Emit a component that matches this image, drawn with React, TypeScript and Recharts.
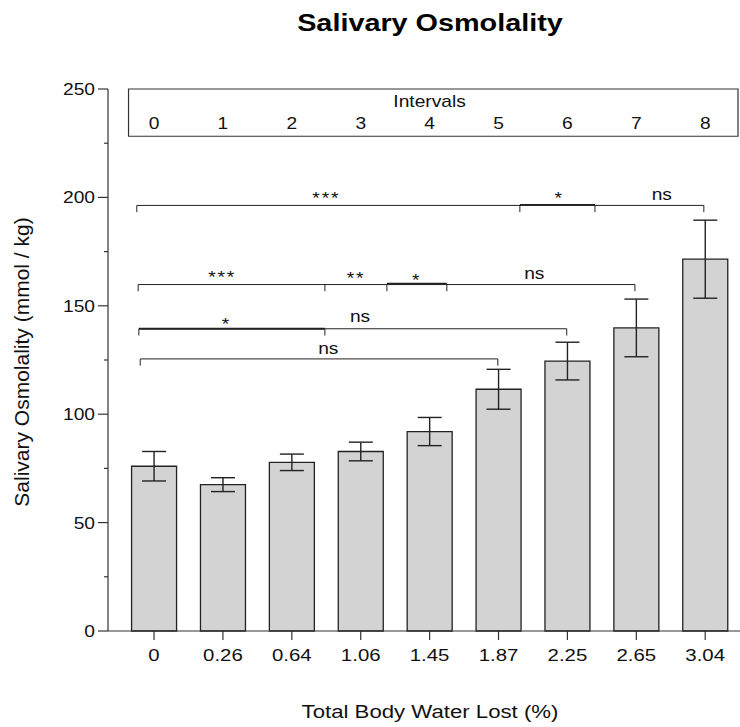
import React from 'react';
import {
  ComposedChart,
  Bar,
  ErrorBar,
  XAxis,
  YAxis,
  ReferenceLine,
  ReferenceArea,
  ReferenceDot,
} from 'recharts';

const FONT = '"Liberation Sans", Arial, sans-serif';
const AXIS = '#333';
const INK = '#111';

// categories (total body water lost, %) and the interval numbers above them
const waterLost = ['0', '0.26', '0.64', '1.06', '1.45', '1.87', '2.25', '2.65', '3.04'];
const intervals = [0, 1, 2, 3, 4, 5, 6, 7, 8];

// salivary osmolality, mean and error (mmol / kg)
const meanOsm = [76, 67.5, 77.8, 82.8, 92, 111.5, 124.5, 139.8, 171.5];
const errOsm = [6.8, 3.2, 3.8, 4.3, 6.5, 9.2, 8.7, 13.3, 18];

const yTicks = [0, 25, 50, 75, 100, 125, 150, 175, 200, 225, 250];

// significance brackets: [from, to, level, strokeWidth] in category / data units
const bracketLines: [number, number, number, number][] = [
  [-0.25, 7.98, 196.3, 1],
  [5.31, 6.4, 196.6, 1.6],
  [-0.23, 6.98, 159.8, 1],
  [3.38, 4.25, 160.2, 1.8],
  [-0.22, 5.99, 139.4, 1],
  [-0.22, 2.48, 139.4, 2],
  [-0.2, 4.99, 125.5, 1],
];
// little drops at bracket ends: [at, level]
const bracketDrops: [number, number][] = [
  [-0.25, 196.3], [5.31, 196.3], [6.4, 196.3], [7.98, 196.3],
  [-0.23, 159.8], [2.48, 159.8], [3.38, 159.8], [4.25, 159.8], [6.98, 159.8],
  [-0.22, 139.4], [2.48, 139.4], [5.99, 139.4],
  [-0.2, 125.5], [4.99, 125.5],
];
// labels: [at, baseline, text]
const bracketLabels: [number, number, string][] = [
  [2.5, 197.0, '***'], [5.88, 197.0, '*'], [7.37, 198.8, 'ns'],
  [0.99, 160.7, '***'], [2.93, 159.9, '**'], [3.81, 159.3, '*'], [5.52, 162.3, 'ns'],
  [1.05, 138.8, '*'], [2.99, 142.3, 'ns'],
  [2.53, 127.6, 'ns'],
];

const data = waterLost.map((label, i) => ({ idx: i, label, mean: meanOsm[i], err: errOsm[i] }));

const STRETCH = 1.2;

const XTick = (props: any) => {
  const { x, y, payload } = props;
  return (
    <text
      transform={`translate(${x},${y + 21}) scale(${STRETCH},1)`}
      textAnchor="middle"
      fontSize={17}
      fontFamily={FONT}
      fill={INK}
    >
      {waterLost[payload.value]}
    </text>
  );
};

const YTick = (props: any) => {
  const { x, y, payload } = props;
  const major = payload.value % 50 === 0;
  return (
    <g>
      <line x1={x - (major ? 10 : 4)} x2={x} y1={y} y2={y} stroke={AXIS} strokeWidth={1.2} />
      {major && (
        <text
          transform={`translate(${x - 13},${y + 6}) scale(${STRETCH},1)`}
          textAnchor="end"
          fontSize={16}
          fontFamily={FONT}
          fill={INK}
        >
          {payload.value}
        </text>
      )}
    </g>
  );
};

const textAt = (text: string, size: number, spacing = 0) => (p: any) => (
  <text
    transform={`translate(${p.viewBox.x},${p.viewBox.y}) scale(${STRETCH},1)`}
    textAnchor="middle"
    fontSize={size}
    letterSpacing={spacing}
    fontFamily={FONT}
    fill={INK}
  >
    {text}
  </text>
);

export default function App() {
  return (
    <div style={{ position: 'absolute', left: 0, top: 0, width: 740, height: 727, background: '#fff' }}>
      <ComposedChart
        width={740}
        height={727}
        data={data}
        margin={{ top: 89, right: 0, bottom: 0, left: 0 }}
      >
        <XAxis
          type="number"
          dataKey="idx"
          domain={[-0.668, 8.505]}
          allowDataOverflow
          ticks={intervals}
          interval={0}
          height={96}
          tickSize={9}
          tickMargin={0}
          tick={<XTick />}
          stroke={AXIS}
          tickLine={{ stroke: AXIS, strokeWidth: 1.2 }}
          axisLine={{ stroke: AXIS, strokeWidth: 1.2 }}
        />
        <YAxis
          type="number"
          domain={[0, 250]}
          ticks={yTicks}
          interval={0}
          width={108}
          tickSize={0}
          tickMargin={0}
          tickLine={false}
          tick={<YTick />}
          axisLine={{ stroke: AXIS, strokeWidth: 1.2 }}
        />
        <ReferenceArea
          x1={-0.37}
          x2={8.476}
          y1={228.2}
          y2={250}
          fill="#fff"
          fillOpacity={1}
          stroke={AXIS}
          strokeWidth={1.2}
        />
        <Bar
          dataKey="mean"
          barSize={45}
          fill="#d3d3d3"
          stroke="#222"
          strokeWidth={1.3}
          isAnimationActive={false}
        >
          <ErrorBar dataKey="err" direction="y" width={12} stroke="#222" strokeWidth={1.4} isAnimationActive={false} />
        </Bar>

        {bracketLines.map(([a, b, lv, w], i) => (
          <ReferenceLine
            key={`bl${i}`}
            segment={[{ x: a, y: lv }, { x: b, y: lv }]}
            stroke="#222"
            strokeWidth={w}
          />
        ))}
        {bracketDrops.map(([at, lv], i) => (
          <ReferenceLine
            key={`bd${i}`}
            segment={[{ x: at, y: lv }, { x: at, y: lv - 3.1 }]}
            stroke="#222"
            strokeWidth={1}
          />
        ))}
        {bracketLabels.map(([at, lv, t], i) => (
          <ReferenceDot
            key={`lb${i}`}
            x={at}
            y={lv}
            r={0}
            fill="none"
            stroke="none"
            label={t === 'ns' ? textAt(t, 16) : textAt(t, 16, 1.5)}
          />
        ))}

        {/* interval strip */}
        <ReferenceDot x={4} y={241.6} r={0} fill="none" stroke="none" label={textAt('Intervals', 16)} />
        {intervals.map((n) => (
          <ReferenceDot key={`iv${n}`} x={n} y={231.6} r={0} fill="none" stroke="none" label={textAt(String(n), 16)} />
        ))}
      </ComposedChart>

      <svg
        width={740}
        height={727}
        style={{ position: 'absolute', left: 0, top: 0, pointerEvents: 'none' }}
      >
        <text
          transform={`translate(430,31) scale(${STRETCH},1)`}
          textAnchor="middle"
          fontSize={24}
          fontWeight="bold"
          fontFamily={FONT}
          fill="#000"
        >
          Salivary Osmolality
        </text>
        <text
          transform={`translate(430,718) scale(${STRETCH},1)`}
          textAnchor="middle"
          fontSize={18.5}
          fontFamily={FONT}
          fill={INK}
        >
          Total Body Water Lost (%)
        </text>
        <text
          transform="translate(29,362) rotate(-90)"
          textAnchor="middle"
          fontSize={21}
          fontFamily={FONT}
          fill={INK}
        >
          Salivary Osmolality (mmol / kg)
        </text>
      </svg>
    </div>
  );
}
